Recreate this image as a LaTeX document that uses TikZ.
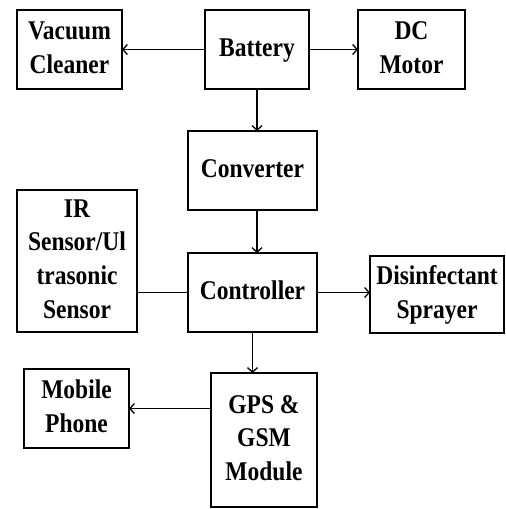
\documentclass[tikz,border=0pt]{standalone}
\usepackage{fontspec}
\setmainfont{Liberation Serif}
\usetikzlibrary{arrows.meta}
\newcommand{\blbl}[1]{\scalebox{1}[1.15]{\begin{tabular}{@{}c@{}}#1\end{tabular}}}
\tikzset{
  blockbox/.style={draw, line width=1.5pt, inner sep=0pt, outer sep=0pt,
    font=\fontsize{23.5}{29.3}\selectfont\bfseries},
  conn/.style={line width=1.3pt, -{Straight Barb[length=4.5pt,width=10pt,line width=1.3pt]}},
  plainconn/.style={line width=1.3pt}
}
\begin{document}
\begin{tikzpicture}[x=1pt,y=-1pt]
\useasboundingbox (0,0) rectangle (506,509);
\node[blockbox, minimum width=105, minimum height=79] (vac) at (69.5,49.5) {\blbl{Vacuum\\Cleaner}};
\node[blockbox, minimum width=104, minimum height=79] (bat) at (257,49.5) {\blbl{Battery}};
\node[blockbox, minimum width=107, minimum height=79] (dc) at (411.5,49.5) {\blbl{DC\\Motor}};
\node[blockbox, minimum width=129, minimum height=79] (conv) at (252.5,170.5) {\blbl{Converter}};
\node[blockbox, minimum width=120, minimum height=142] (ir) at (77,261) {\blbl{IR\\Sensor/Ul\\trasonic\\Sensor}};
\node[blockbox, minimum width=129, minimum height=79] (ctrl) at (252.5,292.5) {\blbl{Controller}};
\node[blockbox, minimum width=134, minimum height=77] (dis) at (437,294.5) {\blbl{Disinfectant\\Sprayer}};
\node[blockbox, minimum width=105, minimum height=79] (mob) at (76.5,408.5) {\blbl{Mobile\\Phone}};
\node[blockbox, minimum width=106, minimum height=134] (gps) at (264,440) {\blbl{GPS \&\\GSM\\Module}};
\draw[conn] (bat.west) -- (vac.east);
\draw[conn] (bat.east) -- (dc.west);
\draw[conn] (bat.south) -- (bat.south |- conv.north);
\draw[conn] (bat.south |- conv.south) -- (bat.south |- ctrl.north);
\draw[plainconn] (ctrl.west) -- (ctrl.west -| ir.east);
\draw[conn] (ctrl.east) -- (ctrl.east -| dis.west);
\draw[conn] (ctrl.south) -- (ctrl.south |- gps.north);
\draw[conn] (gps.west |- mob.east) -- (mob.east);
\end{tikzpicture}
\end{document}
